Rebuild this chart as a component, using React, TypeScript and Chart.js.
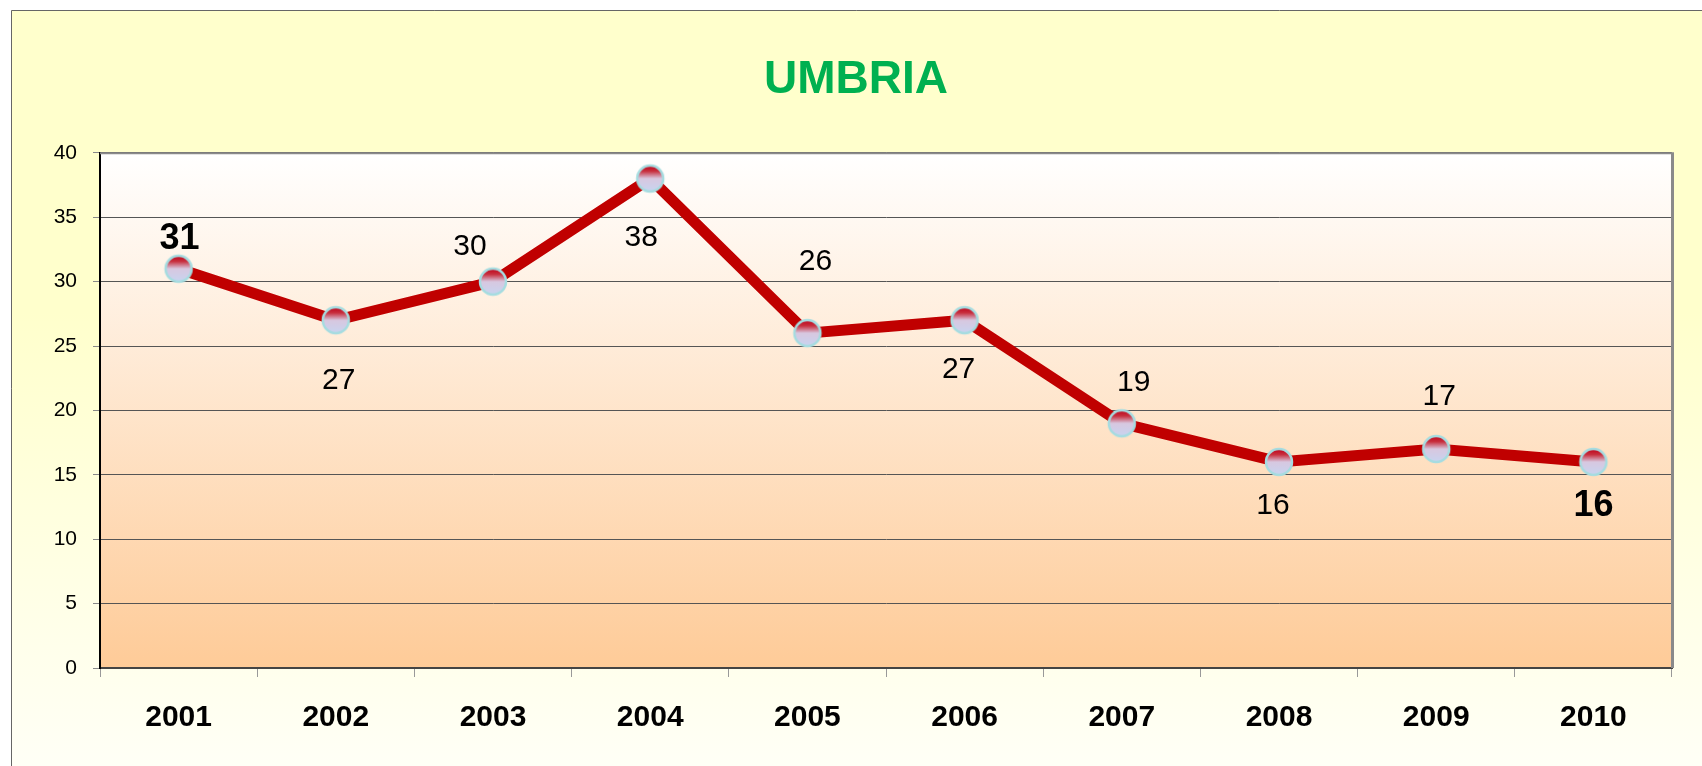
import React, { useEffect, useRef } from "react";
import { Chart, registerables } from "chart.js";

Chart.register(...registerables);

const chartTitle = "UMBRIA";
const years = ["2001", "2002", "2003", "2004", "2005", "2006", "2007", "2008", "2009", "2010"];
const values = [31, 27, 30, 38, 26, 27, 19, 16, 17, 16];
const yMin = 0;
const yMax = 40;
const yStep = 5;
// label placement (style): offsets relative to each point, and emphasis
const labelDx = [1, 3, -23, -9, 8, -6, 12, -6, 3, 0];
const labelDy = [-30, 60, -35, 59, -71, 49, -41, 44, -52, 44];
const labelBold = [true, false, false, false, false, false, false, false, false, true];

const FONT = "'Liberation Sans', Arial, sans-serif";

function makeMarker(): HTMLCanvasElement {
  const size = 32;
  const c = document.createElement("canvas");
  c.width = size;
  c.height = size;
  const ctx = c.getContext("2d")!;
  const r = 13;
  const cx = size / 2;
  const cy = size / 2;
  const g = ctx.createLinearGradient(0, cy - r, 0, cy + r);
  g.addColorStop(0, "#bf0018");
  g.addColorStop(0.22, "#c8303f");
  g.addColorStop(0.5, "#d8c8e0");
  g.addColorStop(1, "#c8d4f0");
  ctx.beginPath();
  ctx.arc(cx, cy, r, 0, Math.PI * 2);
  ctx.fillStyle = g;
  ctx.fill();
  ctx.lineWidth = 2.5;
  ctx.strokeStyle = "#a6dce0";
  ctx.stroke();
  return c;
}

const backgroundPlugin = {
  id: "bgPlugin",
  beforeDraw(chart: any) {
    const { ctx, chartArea, width, height } = chart;
    ctx.save();
    const fg = ctx.createLinearGradient(0, 10, 0, height);
    fg.addColorStop(0, "#ffffcc");
    fg.addColorStop(0.4, "#ffffcc");
    fg.addColorStop(1, "#fffff6");
    ctx.fillStyle = fg;
    ctx.fillRect(11, 10, width - 11, height - 10);
    ctx.strokeStyle = "#666";
    ctx.lineWidth = 1;
    ctx.beginPath();
    ctx.moveTo(11.5, height);
    ctx.lineTo(11.5, 10.5);
    ctx.lineTo(width, 10.5);
    ctx.stroke();
    const pg = ctx.createLinearGradient(0, chartArea.top, 0, chartArea.bottom);
    pg.addColorStop(0, "#ffffff");
    pg.addColorStop(1, "#fecb98");
    ctx.fillStyle = pg;
    ctx.fillRect(chartArea.left, chartArea.top, chartArea.right - chartArea.left, chartArea.bottom - chartArea.top);
    ctx.restore();
  },
  beforeDatasetsDraw(chart: any) {
    const { ctx, chartArea } = chart;
    ctx.save();
    ctx.strokeStyle = "#8a8a8a";
    ctx.lineWidth = 2;
    ctx.beginPath();
    ctx.moveTo(chartArea.left, chartArea.top + 0.5);
    ctx.lineTo(chartArea.right, chartArea.top + 0.5);
    ctx.stroke();
    ctx.lineWidth = 3;
    ctx.beginPath();
    ctx.moveTo(chartArea.right + 0.5, chartArea.top - 0.5);
    ctx.lineTo(chartArea.right + 0.5, chartArea.bottom);
    ctx.stroke();
    ctx.restore();
  },
};

const labelPlugin = {
  id: "valueLabels",
  afterDatasetsDraw(chart: any) {
    const { ctx } = chart;
    const meta = chart.getDatasetMeta(0);
    ctx.save();
    ctx.fillStyle = "#000";
    ctx.textAlign = "center";
    ctx.textBaseline = "middle";
    meta.data.forEach((pt: any, i: number) => {
      ctx.font = labelBold[i] ? `bold 36px ${FONT}` : `30px ${FONT}`;
      ctx.fillText(String(values[i]), pt.x + labelDx[i], pt.y + labelDy[i]);
    });
    ctx.restore();
  },
};

export default function App() {
  const ref = useRef<HTMLCanvasElement>(null);
  useEffect(() => {
    document.body.style.margin = "0";
    const marker = makeMarker();
    const chart = new Chart(ref.current!, {
      type: "line",
      data: {
        labels: years,
        datasets: [
          {
            data: values,
            borderColor: "#c00000",
            borderWidth: 11,
            tension: 0,
            fill: false,
            pointStyle: marker as any,
            pointRadius: 14,
            pointHoverRadius: 14,
            borderJoinStyle: "miter",
          },
        ],
      },
      options: {
        responsive: false,
        animation: false,
        events: [],
        layout: { padding: { left: 40, right: 30, top: 10, bottom: 0 } },
        plugins: {
          legend: { display: false },
          tooltip: { enabled: false },
          title: {
            display: true,
            text: chartTitle,
            color: "#00b050",
            font: { family: FONT, size: 46, weight: "bold" },
            padding: { top: 43, bottom: 44.6 },
          },
        },
        scales: {
          x: {
            type: "category",
            offset: true,
            afterFit: (s: any) => {
              s.height = 98;
            },
            grid: {
              display: true,
              offset: true,
              drawOnChartArea: false,
              tickLength: 9,
              tickColor: "#999",
            },
            border: { display: true, color: "#444", width: 2 },
            ticks: {
              color: "#000",
              font: { family: FONT, size: 30, weight: "bold" },
              padding: 23,
              maxRotation: 0,
            },
          },
          y: {
            min: yMin,
            max: yMax,
            afterFit: (s: any) => {
              s.width = 60;
            },
            grid: {
              color: "#555",
              lineWidth: 1,
              tickLength: 7,
              tickColor: "#888",
            },
            border: { display: true, color: "#000", width: 2 },
            ticks: {
              stepSize: yStep,
              color: "#000",
              font: { family: FONT, size: 21 },
              padding: 16,
            },
          },
        },
      },
      plugins: [backgroundPlugin, labelPlugin],
    });
    return () => chart.destroy();
  }, []);
  return <canvas ref={ref} width={1702} height={766} style={{ display: "block" }} />;
}
